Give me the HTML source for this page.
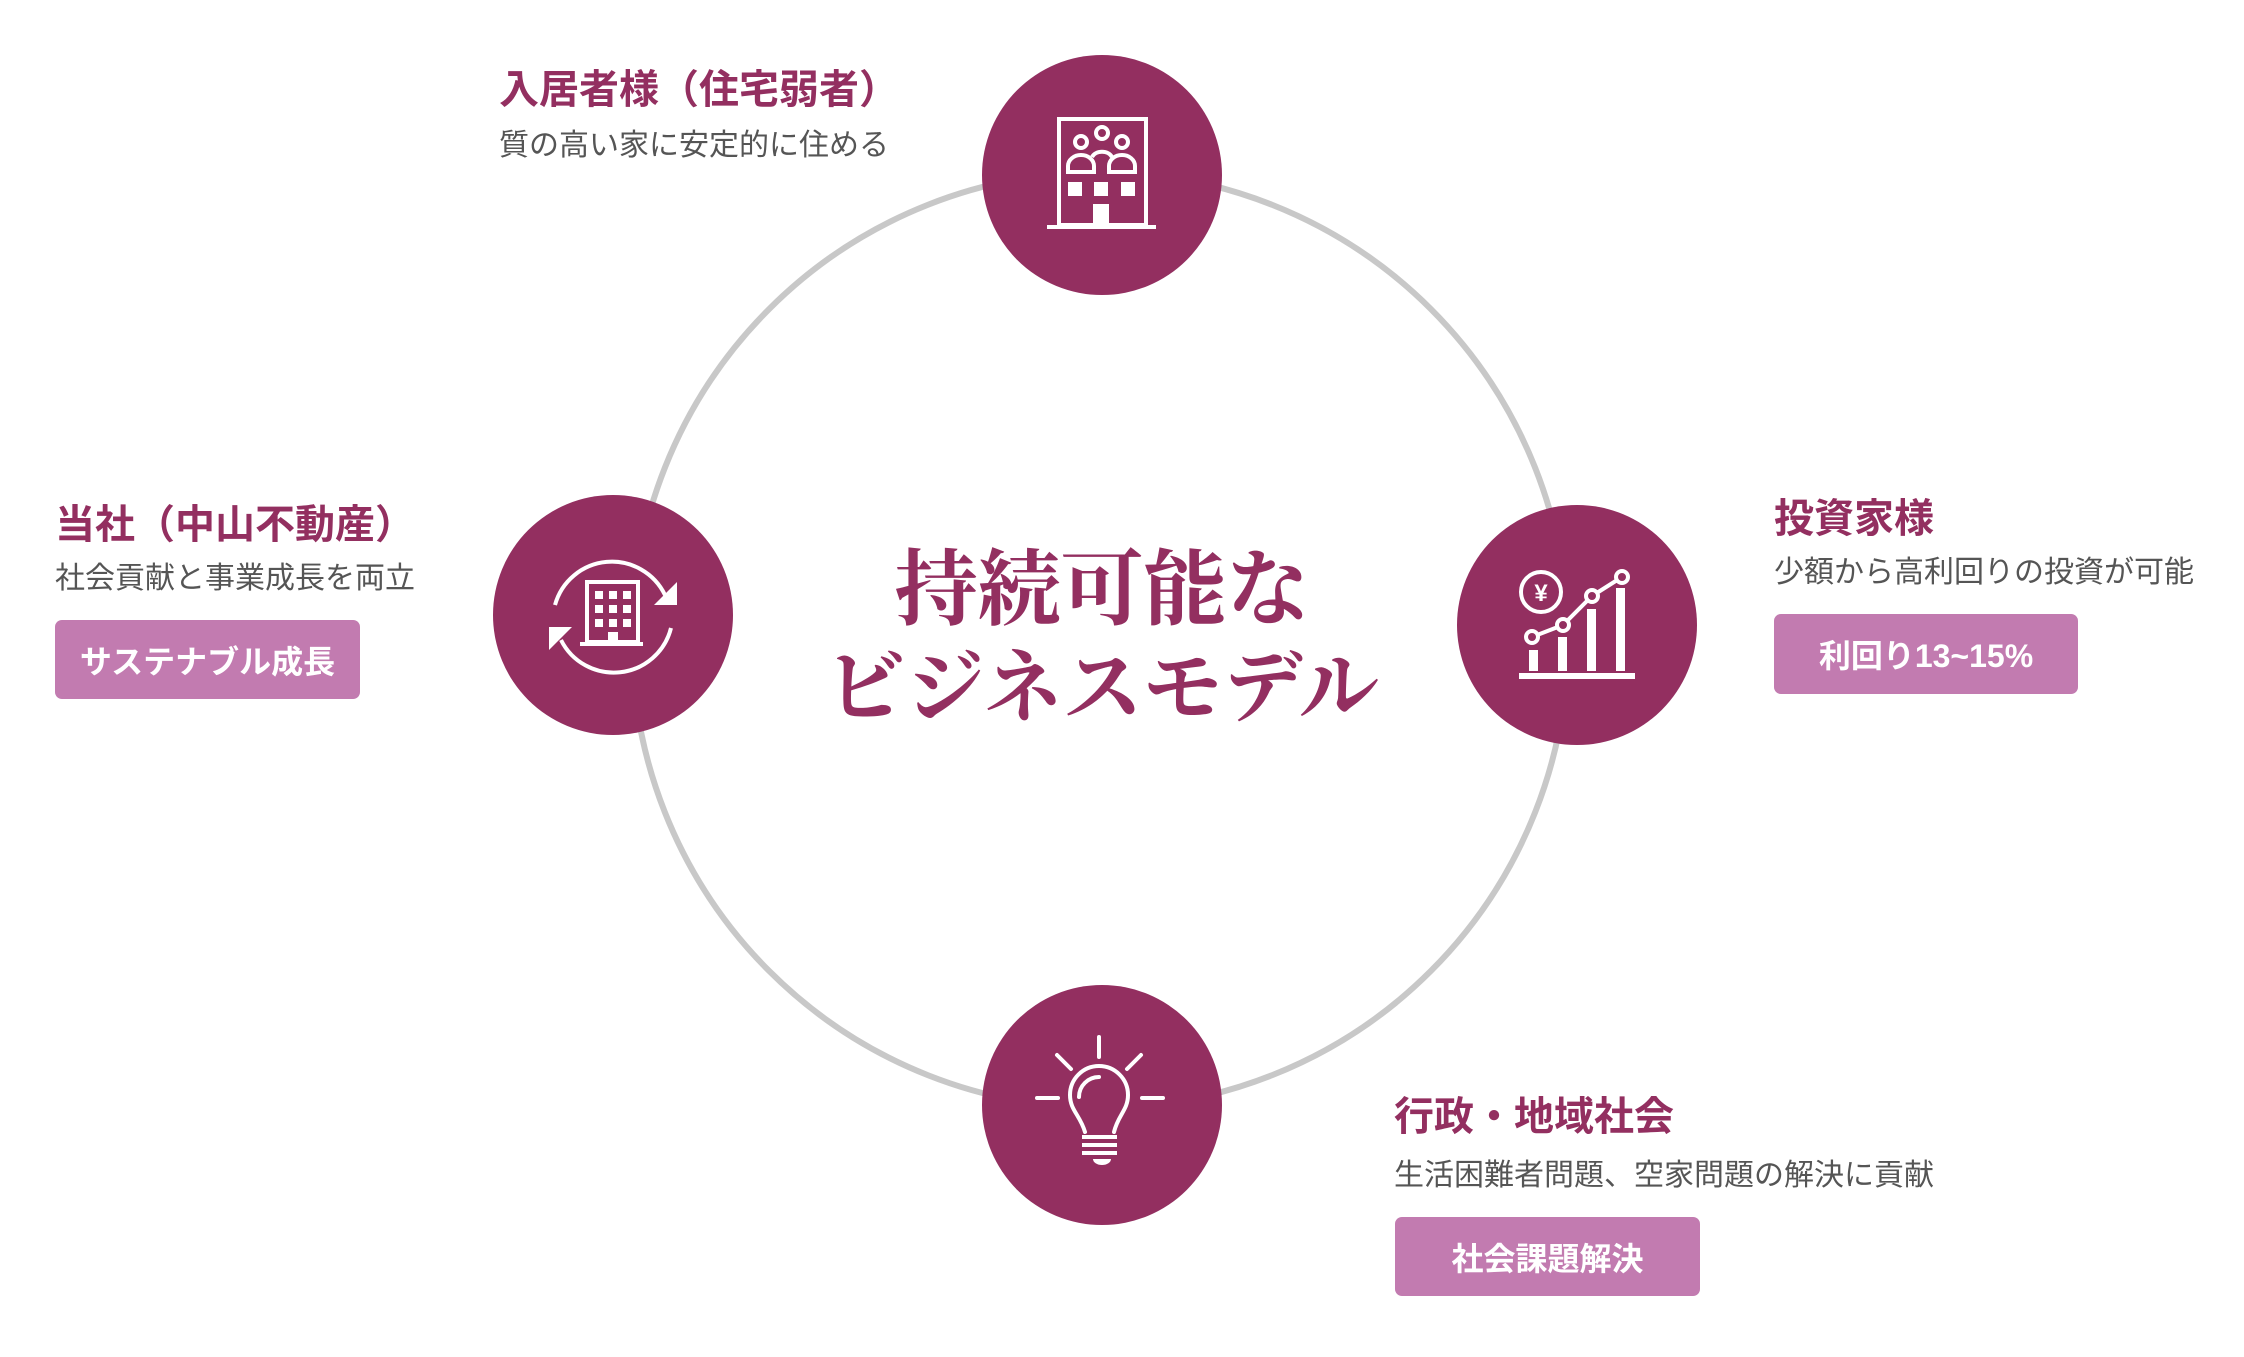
<!DOCTYPE html>
<html><head><meta charset="utf-8">
<style>
html,body{margin:0;padding:0;background:#fff;}
body{width:2244px;height:1357px;position:relative;overflow:hidden;font-family:"Liberation Sans","Noto Sans CJK JP",sans-serif;}
.t{position:absolute;white-space:nowrap;}
.h{color:#932f60;font-size:40px;font-weight:bold;line-height:1;}
.s{color:#555;font-size:30px;line-height:1;}
.tag{position:absolute;background:#c27bb0;color:#fff;border-radius:7px;font-size:32px;font-weight:bold;display:flex;align-items:center;justify-content:center;}
.title{position:absolute;left:0;width:2204px;text-align:center;color:#932f60;font-family:"Noto Serif CJK JP","Noto Serif CJK SC",serif;font-weight:bold;line-height:1;}
</style></head><body>
<svg width="2244" height="1357" style="position:absolute;left:0;top:0">
<circle cx="1100" cy="640" r="468" fill="none" stroke="#c8c8c8" stroke-width="6"/>
<g fill="#932f60">
<circle cx="1102" cy="175" r="120"/>
<circle cx="613" cy="615" r="120"/>
<circle cx="1577" cy="625" r="120"/>
<circle cx="1102" cy="1105" r="120"/>
</g>
<g transform="translate(1102,175)" stroke="#fff" stroke-width="4" fill="none">
<rect x="-43" y="-56" width="87" height="106"/>
<line x1="-55" y1="52" x2="54" y2="52"/>
<circle cx="-21" cy="-33" r="6"/><circle cx="0" cy="-42" r="6"/><circle cx="20" cy="-33" r="6"/>
<path d="M-34,-3 v-6 a13,11 0 0 1 26,0 v6 z"/>
<path d="M7,-3 v-6 a13,11 0 0 1 26,0 v6 z"/>
<path d="M-10,-18 a11,9 0 0 1 20,0"/>
</g>
<g transform="translate(1102,175)" fill="#fff">
<rect x="-34" y="7" width="14" height="14"/><rect x="-8" y="7" width="14" height="14"/><rect x="19" y="7" width="14" height="14"/>
<rect x="-9" y="29" width="16" height="22"/>
</g>
<g transform="translate(613,615)">
<g stroke="#fff" stroke-width="4" fill="none">
<rect x="-26" y="-33" width="51" height="60"/>
<line x1="-33" y1="29" x2="30" y2="29"/>
<path d="M-58,-10 A59,59 0 0 1 52,-20"/>
<path d="M58,13 A59,59 0 0 1 -52,25"/>
</g>
<g fill="#fff">
<rect x="-18" y="-24" width="8" height="8"/><rect x="-4" y="-24" width="8" height="8"/><rect x="10" y="-24" width="8" height="8"/>
<rect x="-18" y="-10" width="8" height="8"/><rect x="-4" y="-10" width="8" height="8"/><rect x="10" y="-10" width="8" height="8"/>
<rect x="-18" y="4" width="8" height="8"/><rect x="-4" y="4" width="8" height="8"/><rect x="10" y="4" width="8" height="8"/>
<rect x="-5" y="17" width="10" height="12"/>
<polygon points="64,-33 64,-10 41,-10"/>
<polygon points="-64,35 -64,12 -41,12"/>
</g></g>
<g transform="translate(1577,625)">
<g fill="#fff">
<rect x="-58" y="48" width="116" height="6"/>
<rect x="-48" y="25" width="9" height="21"/>
<rect x="-19" y="12" width="9" height="34"/>
<rect x="10" y="-16" width="9" height="62"/>
<rect x="39" y="-37" width="9" height="83"/>
</g>
<g stroke="#fff" stroke-width="4" fill="#932f60">
<polyline points="-45,12 -14,0 15,-29 45,-48" fill="none"/>
<circle cx="-45" cy="12" r="6"/><circle cx="-14" cy="0" r="6"/><circle cx="15" cy="-29" r="6"/><circle cx="45" cy="-48" r="6"/>
<circle cx="-36" cy="-33" r="20" fill="none"/>
</g>
<text x="-36" y="-24" fill="#fff" font-size="24" font-weight="bold" text-anchor="middle" font-family="Liberation Sans,sans-serif">¥</text>
</g>
<g transform="translate(1102,1105)" stroke="#fff" stroke-width="4" fill="none" stroke-linecap="round">
<line x1="-3" y1="-68" x2="-3" y2="-48"/>
<line x1="-65" y1="-7" x2="-44" y2="-7"/>
<line x1="40" y1="-7" x2="61" y2="-7"/>
<line x1="-45" y1="-50" x2="-31" y2="-36"/>
<line x1="39" y1="-50" x2="25" y2="-36"/>
<path d="M-17,27 C-22,10 -32,5 -32,-10 A29,29 0 0 1 26,-10 C26,5 16,10 12,27"/>
<path d="M-23,-8 A20,20 0 0 1 -3,-28"/>
<line x1="-20" y1="32" x2="15" y2="32" stroke-linecap="butt"/>
<line x1="-20" y1="40" x2="15" y2="40" stroke-linecap="butt"/>
<line x1="-20" y1="48" x2="15" y2="48" stroke-linecap="butt"/>
</g>
<path d="M1093,1159 h18 a9,6 0 0 1 -18,0z" fill="#fff"/>
</svg>

<div class="t h" style="left:499px;top:70px;">入居者様（住宅弱者）</div>
<div class="t s" style="left:499px;top:131px;">質の高い家に安定的に住める</div>

<div class="t h" style="left:55px;top:505px;">当社（中山不動産）</div>
<div class="t s" style="left:55px;top:564px;">社会貢献と事業成長を両立</div>
<div class="tag" style="left:55px;top:620px;width:305px;height:79px;">サステナブル成長</div>

<div class="t h" style="left:1774px;top:499px;">投資家様</div>
<div class="t s" style="left:1774px;top:558px;">少額から高利回りの投資が可能</div>
<div class="tag" style="left:1774px;top:614px;width:304px;height:80px;">利回り13~15%</div>

<div class="t h" style="left:1394px;top:1097px;">行政・地域社会</div>
<div class="t s" style="left:1394px;top:1161px;">生活困難者問題、空家問題の解決に貢献</div>
<div class="tag" style="left:1395px;top:1217px;width:305px;height:79px;">社会課題解決</div>

<div class="title" style="top:541px;font-size:83px;">持続可能な</div>
<div class="title" style="top:641px;font-size:80px;">ビジネスモデル</div>
</body></html>
